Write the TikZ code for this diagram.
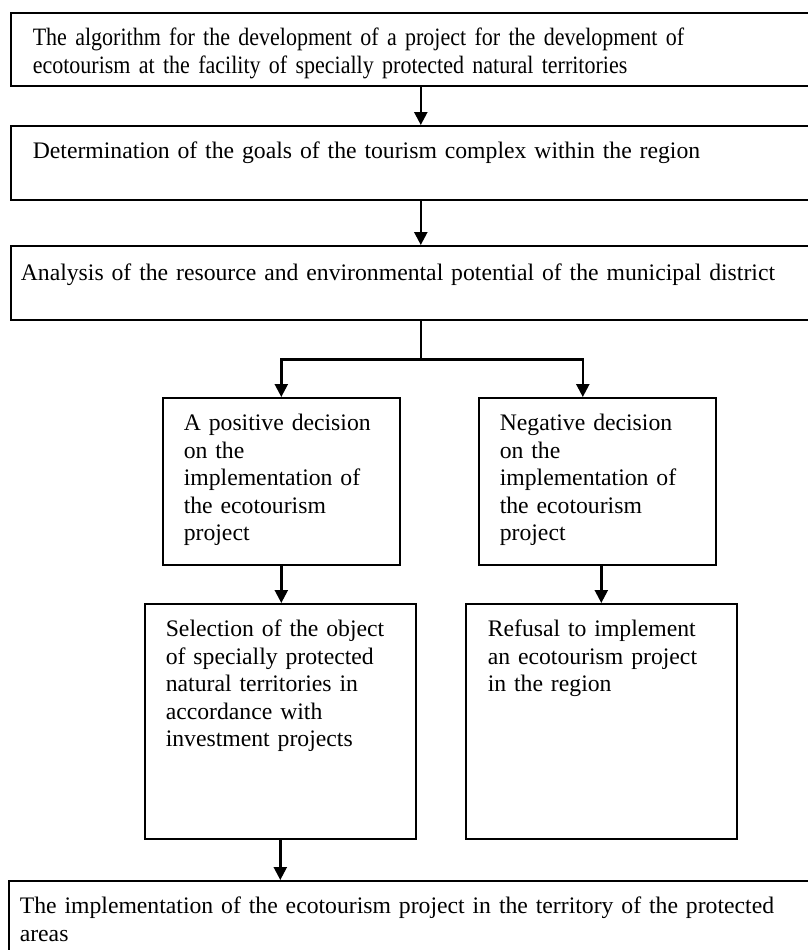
\documentclass[tikz,border=0pt]{standalone}
\usepackage{fontspec}
\setmainfont{Liberation Serif}
\newfontfamily\narrowserif[FakeStretch=0.88]{Liberation Serif}
\usetikzlibrary{arrows.meta}

\tikzset{
  stage/.style={draw, line width=1.6pt, anchor=north west, align=left,
    inner xsep=21pt, inner ysep=15pt, text height=18pt,
    font=\fontsize{23.7}{27.4}\selectfont},
  flow/.style={line width=2.4pt, -{Triangle[length=13pt,width=13pt]}},
  trunk/.style={line width=1.5pt}
}

\begin{document}
\begin{tikzpicture}[x=1pt,y=-1pt]
    \useasboundingbox[fill=white] (0,0) rectangle (808,950);
    % wide stages (cut off by the page on the right)
    \node[stage, inner xsep=22pt, text width=776pt, text depth=25pt,
          font=\narrowserif\fontsize{25}{27.4}\selectfont] (algo) at (10,12)
      {The algorithm for the development of a project for the development of\\
       ecotourism at the facility of specially protected natural territories};
    \node[stage, inner xsep=22pt, text width=776pt, text depth=26pt] (goals) at (10,125)
      {Determination of the goals of the tourism complex within the region};
    \node[stage, inner xsep=10pt, inner ysep=17pt, text width=800pt, text depth=22pt] (analysis) at (10,245)
      {Analysis of the resource and environmental potential of the municipal district};
    % decisions
    \node[stage, text width=195pt, text depth=119pt] (pos) at (162,397)
      {A positive decision\\ on the\\ implementation of\\ the ecotourism\\ project};
    \node[stage, text width=195pt, text depth=119pt] (neg) at (478,397)
      {Negative decision\\ on the\\ implementation of\\ the ecotourism\\ project};
    \node[stage, text width=229pt, text depth=187pt] (sel) at (144,603)
      {Selection of the object\\ of specially protected\\ natural territories in\\
       accordance with\\ investment projects};
    \node[stage, inner xsep=22pt, text width=227pt, text depth=187pt] (ref) at (465,603)
      {Refusal to implement\\ an ecotourism project\\ in the region};
    \node[stage, inner xsep=11pt, text width=800pt, text depth=32pt] (impl) at (8,880)
      {The implementation of the ecotourism project in the territory of the protected\\ areas};

    \foreach \a/\b in {algo/goals, goals/analysis}
      \draw[flow] (\a) -- (\b);
    \path (analysis.south) ++(0,39) coordinate (fork);
    \draw[trunk] (analysis.south) -- (fork);
    \draw[flow] (fork) -| (pos.north);
    \draw[flow] (fork) -| ([xshift=-14.5pt]neg.north);
    \draw[flow] (pos.south) -- (pos.south |- sel.north);
    \draw[flow] (neg.south -| ref.north) -- (ref.north);
    \draw[flow] (sel.south) -- (sel.south |- impl.north);
\end{tikzpicture}
\end{document}
